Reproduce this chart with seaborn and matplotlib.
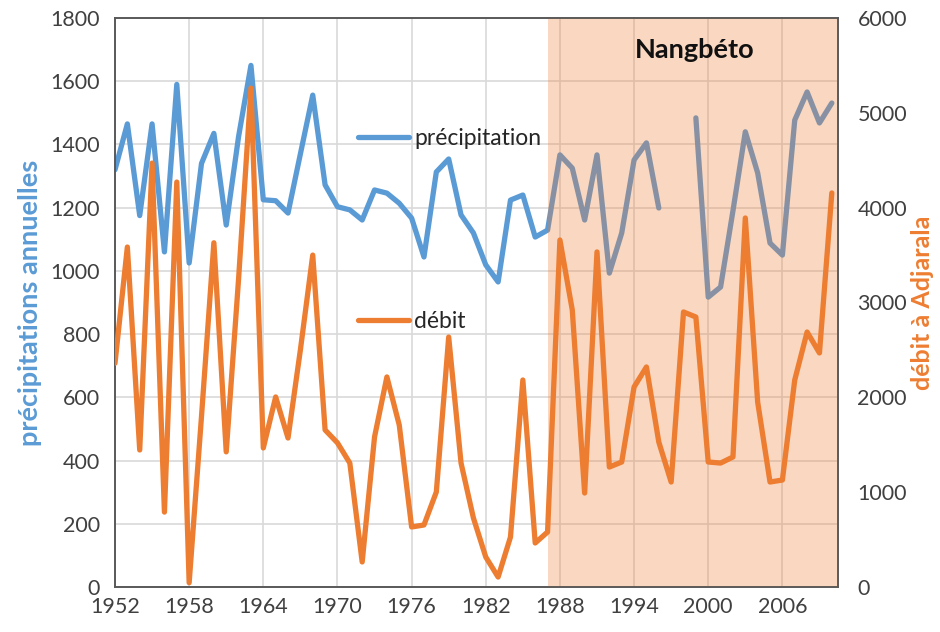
import numpy as np
import pandas as pd
import matplotlib
matplotlib.use("Agg")
import matplotlib.pyplot as plt
import seaborn as sns
from matplotlib.lines import Line2D

# données
years = list(range(1952, 2011))
precipitation = [1320, 1465, 1175, 1465, 1060, 1590, 1025, 1340, 1435, 1145,
                 1425, 1650, 1225, 1222, 1183, 1370, 1556, 1272, 1203, 1193,
                 1161, 1256, 1246, 1214, 1167, 1044, 1313, 1354, 1177, 1120,
                 1019, 965, 1224, 1240, 1107, 1129, 1367, 1325, 1161, 1367,
                 993, 1120, 1351, 1405, 1199, np.nan, np.nan, 1484, 917, 949,
                 1190, 1440, 1310, 1088, 1050, 1477, 1566, 1468, 1531]
debit = [2360, 3585, 1445, 4470, 790, 4270, 45, 1800, 3630, 1425,
         3250, 5260, 1466, 2004, 1571, 2500, 3500, 1656, 1520, 1307,
         264, 1582, 2215, 1708, 633, 654, 1002, 2636, 1307, 728,
         316, 105, 527, 2183, 464, 580, 3659, 2921, 991, 3533,
         1265, 1318, 2109, 2320, 1529, 1107, 2900, 2847, 1318, 1307,
         1371, 3891, 1950, 1107, 1128, 2183, 2689, 2468, 4155]
xticks = list(range(1952, 2007, 6))
nangbeto_start = 1987

blue = "#5B9BD5"
orange = "#ED7D31"

df = pd.DataFrame({"annee": years, "precipitation": precipitation, "debit": debit})
# segments séparés là où il manque des données
df["segment"] = df["precipitation"].isna().cumsum()
df_p = df.dropna(subset=["precipitation"])

sns.set_theme(style="white")
plt.rcParams["font.family"] = ["Lato", "DejaVu Sans"]

fig = plt.figure(figsize=(9.4, 6.32), dpi=100)
ax = fig.add_axes([115 / 940, 1 - 587 / 632, (838 - 115) / 940, 569 / 632])

sns.lineplot(data=df_p, x="annee", y="precipitation", units="segment",
             estimator=None, color=blue, linewidth=3.8, ax=ax, zorder=2)

ax.set_xlim(1952, 2010.5)
ax.set_ylim(0, 1800)
ax.set_yticks(range(0, 1801, 200))
ax.set_xticks(xticks)
ax.grid(True, color="#D9D9D9", linewidth=1.2)
ax.set_axisbelow(True)
ax.axvspan(nangbeto_start, 2010.5, color=orange, alpha=0.3, lw=0, zorder=3)
ax.text(1998.9, 1700, "Nangbéto", fontsize=19.5, fontweight="bold",
        ha="center", va="center", color="#111111", zorder=6)

ax2 = ax.twinx()
sns.lineplot(data=df, x="annee", y="debit", color=orange, linewidth=3.8,
             ax=ax2, zorder=4)
ax2.set_ylim(0, 6000)
ax2.set_yticks(range(0, 6001, 1000))
ax2.grid(False)

for a in (ax, ax2):
    for s in a.spines.values():
        s.set_color("#595959")
        s.set_linewidth(1.2)
    a.tick_params(length=0, labelsize=15.5, colors="#404040")
ax.tick_params(axis="y", pad=11)
ax.tick_params(axis="x", pad=7)
ax2.tick_params(axis="y", pad=14)

ax.set_xlabel("")
ax.set_ylabel("précipitations annuelles", color=blue, fontsize=19.5,
              fontweight="bold", labelpad=6)
ax2.set_ylabel("débit à Adjarala", color=orange, fontsize=18,
               fontweight="bold", labelpad=3)

leg1 = ax.legend([Line2D([], [], color=blue, lw=3.8)], ["précipitation"],
                 loc="center left", bbox_to_anchor=(0.336, 0.789), frameon=False,
                 fontsize=16.5, handlelength=2.25, handletextpad=0.2,
                 borderpad=0, borderaxespad=0)
leg1.set_zorder(7)
leg2 = ax2.legend([Line2D([], [], color=orange, lw=3.8)], ["débit"],
                  loc="center left", bbox_to_anchor=(0.336, 0.466), frameon=False,
                  fontsize=16.5, handlelength=2.25, handletextpad=0.2,
                  borderpad=0, borderaxespad=0)

fig.savefig("out.png", dpi=100)
